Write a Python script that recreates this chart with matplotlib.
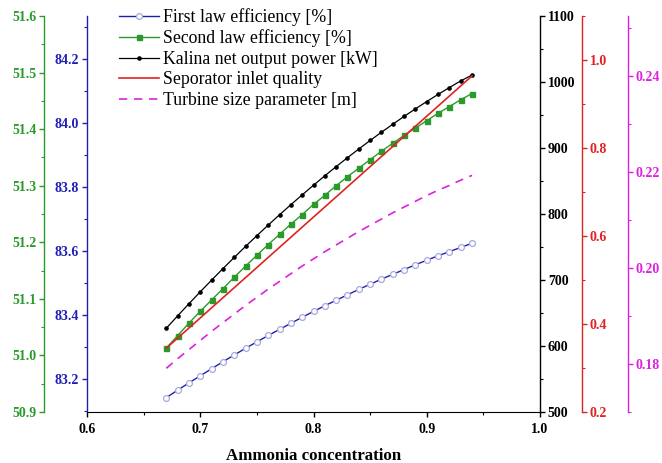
import numpy as np
import matplotlib
matplotlib.use("Agg")
import matplotlib.pyplot as plt
from matplotlib.ticker import MultipleLocator

plt.rcParams['font.family'] = ['Liberation Serif', 'DejaVu Serif']

# ---------------- data ----------------
ammonia = [0.67, 0.68, 0.69, 0.70, 0.71, 0.72, 0.73, 0.74, 0.75, 0.76,
           0.77, 0.78, 0.79, 0.80, 0.81, 0.82, 0.83, 0.84, 0.85, 0.86,
           0.87, 0.88, 0.89, 0.90, 0.91, 0.92, 0.93, 0.94]

first_law = [83.142, 83.165, 83.188, 83.210, 83.232, 83.254, 83.275, 83.296,
             83.316, 83.336, 83.355, 83.374, 83.393, 83.411, 83.429, 83.446,
             83.463, 83.480, 83.496, 83.512, 83.527, 83.542, 83.557, 83.571,
             83.585, 83.598, 83.611, 83.624]

second_law = [51.013, 51.035, 51.057, 51.078, 51.098, 51.118, 51.138, 51.158,
              51.177, 51.196, 51.214, 51.232, 51.249, 51.267, 51.283, 51.300,
              51.316, 51.331, 51.346, 51.361, 51.375, 51.389, 51.402, 51.415,
              51.428, 51.440, 51.452, 51.463]

net_power = [626.8, 645.6, 664.0, 682.1, 699.8, 717.2, 734.2, 750.9,
             767.2, 783.2, 798.8, 814.1, 829.0, 843.6, 857.9, 871.8,
             885.3, 898.5, 911.4, 923.9, 936.0, 947.9, 959.3, 970.4,
             981.2, 991.6, 1001.7, 1010.5]

sep_x = [0.67, 0.94]
sep_quality = [0.345, 0.964]

turbine_size = [0.1791, 0.1811, 0.1830, 0.1849, 0.1868, 0.1886, 0.1904, 0.1922,
                0.1939, 0.1956, 0.1972, 0.1988, 0.2004, 0.2019, 0.2034, 0.2048,
                0.2062, 0.2076, 0.2089, 0.2102, 0.2115, 0.2127, 0.2139, 0.2151,
                0.2162, 0.2172, 0.2183, 0.2193]

labels = ["First law efficiency [%]", "Second law efficiency [%]",
          "Kalina net output power [kW]", "Seporator inlet quality",
          "Turbine size parameter [m]"]

# ---------------- colours ----------------
C_BLUE = '#1f1fb4'
C_GREEN = '#2a9a2a'
C_BLACK = '#000000'
C_RED = '#e02222'
C_MAG = '#dd22dd'

PX = 0.72  # points per pixel at 100 dpi

fig = plt.figure(figsize=(6.62, 4.63), dpi=100)
ax = fig.add_axes([87/662, 1-412/463, (540-87)/662, (412-16)/463])

ax_g = ax.twinx()
ax_k = ax.twinx()
ax_r = ax.twinx()
ax_m = ax.twinx()

def style(a, side, color, offset_px, lo, hi, major, minor, fmt):
    for s in ['top', 'bottom', 'left', 'right']:
        a.spines[s].set_visible(False)
    a.spines[side].set_visible(True)
    a.spines[side].set_color(color)
    a.spines[side].set_linewidth(1.0)
    a.spines[side].set_position(('outward', offset_px * PX))
    a.yaxis.set_ticks_position(side)
    a.set_ylim(lo, hi)
    a.yaxis.set_major_locator(MultipleLocator(major))
    a.yaxis.set_minor_locator(MultipleLocator(minor))
    a.tick_params(axis='y', which='major', direction='out', length=3.6,
                  width=1.0, colors=color, labelsize=10, pad=2)
    a.tick_params(axis='y', which='minor', direction='out', length=2.2,
                  width=0.8, colors=color)
    a.yaxis.set_major_formatter(plt.FuncFormatter(lambda v, p: fmt.format(v)))
    for t in a.get_yticklabels():
        t.set_fontweight('bold')

style(ax, 'left', C_BLUE, 0, 83.097, 84.334, 0.2, 0.1, '{:.1f}')
style(ax_g, 'left', C_GREEN, 43, 50.9, 51.6, 0.1, 0.05, '{:.1f}')
style(ax_k, 'right', C_BLACK, 0, 500, 1100, 100, 50, '{:.0f}')
style(ax_r, 'right', C_RED, 42, 0.2, 1.1, 0.2, 0.1, '{:.1f}')
style(ax_m, 'right', C_MAG, 88, 0.17, 0.2525, 0.02, 0.01, '{:.2f}')

ax.spines['bottom'].set_visible(True)
ax.spines['bottom'].set_color('black')
ax.set_xlim(0.6, 1.0)
ax.xaxis.set_major_locator(MultipleLocator(0.1))
ax.xaxis.set_minor_locator(MultipleLocator(0.05))
ax.tick_params(axis='x', which='major', direction='out', length=3.6, width=1.0,
               labelsize=10, pad=4)
ax.tick_params(axis='x', which='minor', direction='out', length=2.2, width=0.8)
ax.xaxis.set_major_formatter(plt.FuncFormatter(lambda v, p: '{:.1f}'.format(v)))
for t in ax.get_xticklabels():
    t.set_fontweight('bold')
ax.set_xlabel('Ammonia concentration', fontsize=12.2, fontweight='bold', labelpad=9)

# ---------------- lines ----------------
h1, = ax.plot(ammonia, first_law, color=C_BLUE, lw=1.0, marker='o', ms=4.2,
              mfc='white', mec='#a8a8dc', mew=0.9)
h2, = ax_g.plot(ammonia, second_law, color=C_GREEN, lw=1.0, marker='s', ms=3.6,
                mfc=C_GREEN, mec=C_GREEN)
h3, = ax_k.plot(ammonia, net_power, color=C_BLACK, lw=0.9, marker='o', ms=2.3,
                mfc='black', mec='black')
h4, = ax_r.plot(sep_x, sep_quality, color=C_RED, lw=1.2)
h5, = ax_m.plot(ammonia, turbine_size, color=C_MAG, lw=1.2, ls=(0, (5, 4)))

fig.legend([h1, h2, h3, h4, h5], labels, loc='upper left',
           bbox_to_anchor=(119/662, 1-8/463), frameon=False, fontsize=12.8,
           handlelength=2.25, labelspacing=0.2, handletextpad=0.23,
           borderaxespad=0, borderpad=0)

fig.savefig('out.png', dpi=100)
